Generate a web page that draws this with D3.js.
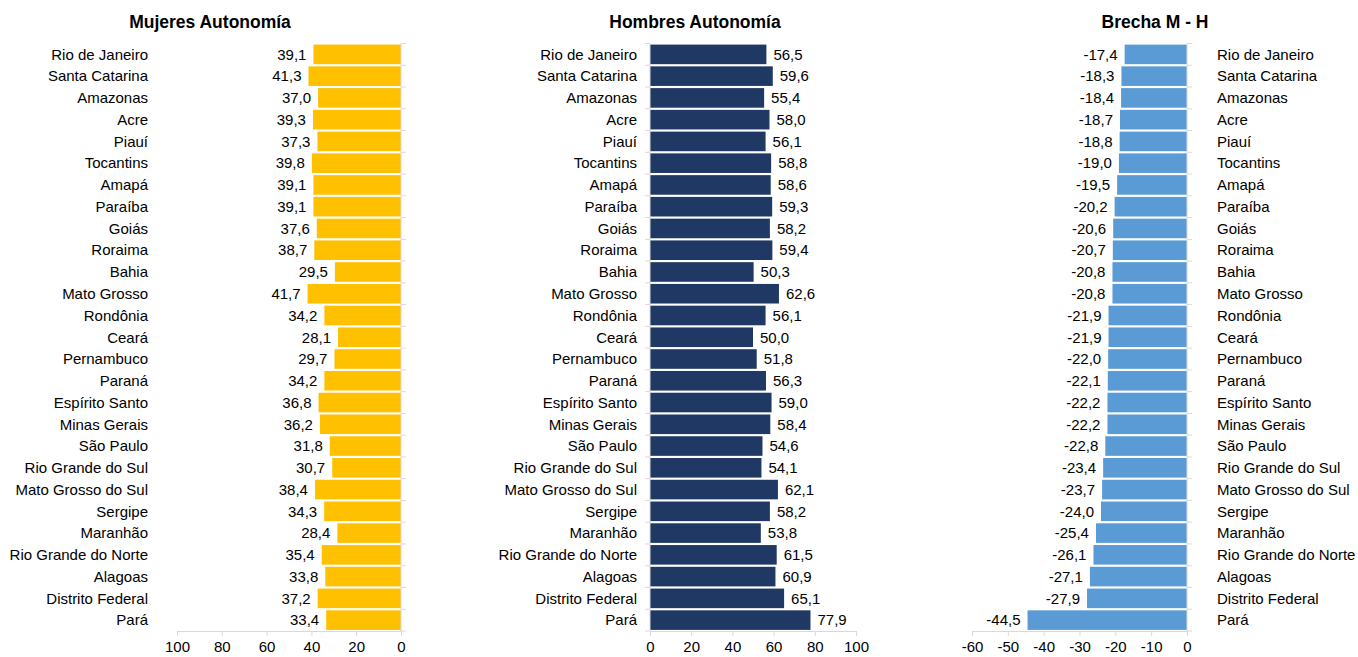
<!DOCTYPE html>
<html><head><meta charset="utf-8">
<script src="https://cdn.jsdelivr.net/npm/d3@7"></script>
<style>body{margin:0;background:#fff}svg{display:block}text{font-family:"Liberation Sans",Arial,sans-serif;fill:#000}</style>
</head><body><svg id="c" width="1358" height="657"></svg>
<script>
const categories=["Rio de Janeiro","Santa Catarina","Amazonas","Acre","Piauí","Tocantins","Amapá","Paraíba","Goiás","Roraima","Bahia","Mato Grosso","Rondônia","Ceará","Pernambuco","Paraná","Espírito Santo","Minas Gerais","São Paulo","Rio Grande do Sul","Mato Grosso do Sul","Sergipe","Maranhão","Rio Grande do Norte","Alagoas","Distrito Federal","Pará"];
const mujeres=[39.1,41.3,37.0,39.3,37.3,39.8,39.1,39.1,37.6,38.7,29.5,41.7,34.2,28.1,29.7,34.2,36.8,36.2,31.8,30.7,38.4,34.3,28.4,35.4,33.8,37.2,33.4];
const hombres=[56.5,59.6,55.4,58.0,56.1,58.8,58.6,59.3,58.2,59.4,50.3,62.6,56.1,50.0,51.8,56.3,59.0,58.4,54.6,54.1,62.1,58.2,53.8,61.5,60.9,65.1,77.9];
const brecha=[-17.4,-18.3,-18.4,-18.7,-18.8,-19.0,-19.5,-20.2,-20.6,-20.7,-20.8,-20.8,-21.9,-21.9,-22.0,-22.1,-22.2,-22.2,-22.8,-23.4,-23.7,-24.0,-25.4,-26.1,-27.1,-27.9,-44.5];
const titles=["Mujeres Autonomía","Hombres Autonomía","Brecha M - H"];
const ticks1=[100,80,60,40,20,0], ticks2=[0,20,40,60,80,100], ticks3=[-60,-50,-40,-30,-20,-10,0];

const svg=d3.select("#c");
const fmt=v=>d3.format(".1f")(v).replace(".",",").replace("−","-");
const plotTop=43.5, plotBottom=631;
const y=d3.scaleBand().domain(categories).range([plotTop,plotBottom]).paddingInner(0.1).paddingOuter(0.05);
const step=(plotBottom-plotTop)/categories.length;
const gridC="#d9d9d9";
const FS="15px";

function panel(opt){
  const g=svg.append("g");
  const x=d3.scaleLinear().domain(opt.domain).range(opt.range);
  const z=x(0);
  g.selectAll("rect").data(opt.values).join("rect")
    .attr("x",d=>Math.min(x(d),z)).attr("width",d=>Math.abs(x(d)-z))
    .attr("y",(d,i)=>y(categories[i])).attr("height",y.bandwidth())
    .attr("fill",opt.color);
  g.append("line").attr("x1",z).attr("x2",z).attr("y1",plotTop).attr("y2",plotBottom).attr("stroke",gridC);
  for(let i=0;i<=categories.length;i++){
    const yy=plotTop+i*step;
    g.append("line").attr("x1",z).attr("x2",z+opt.tickDir*5).attr("y1",yy).attr("y2",yy).attr("stroke",gridC);
  }
  const ax=g.append("g").attr("transform",`translate(0,${plotBottom})`)
    .call(d3.axisBottom(x).tickValues(opt.ticks).tickSize(5).tickPadding(5).tickFormat(d=>String(d)));
  ax.select(".domain").attr("stroke",gridC);
  ax.selectAll(".tick line").attr("stroke",gridC);
  ax.selectAll(".tick text").style("font-size",FS).attr("fill","#000").style("font-family","Liberation Sans, Arial, sans-serif");
  g.selectAll("text.v").data(opt.values).join("text").attr("class","v")
    .attr("x",d=> d<0 || opt.mirror ? Math.min(x(d),z)-7 : x(d)+7)
    .attr("text-anchor",d=> d<0 || opt.mirror ? "end":"start")
    .attr("y",(d,i)=>y(categories[i])+y.bandwidth()/2).attr("dy","0.35em")
    .style("font-size",FS).text(fmt);
  g.selectAll("text.c").data(categories).join("text").attr("class","c")
    .attr("x",opt.catX).attr("text-anchor",opt.catAnchor)
    .attr("y",d=>y(d)+y.bandwidth()/2).attr("dy","0.35em")
    .style("font-size",FS).text(d=>d);
  g.append("text").attr("x",opt.titleX).attr("y",28).attr("text-anchor","middle")
    .style("font-size","17.5px").style("font-weight","bold").text(opt.title);
}

panel({domain:[100,0],range:[177,401],values:mujeres,color:"#FFC000",ticks:ticks1,mirror:true,tickDir:1,catX:148,catAnchor:"end",titleX:210,title:titles[0]});
panel({domain:[0,100],range:[650,856],values:hombres,color:"#203864",ticks:ticks2,mirror:false,tickDir:-1,catX:637,catAnchor:"end",titleX:695,title:titles[1]});
panel({domain:[-60,0],range:[972,1187],values:brecha,color:"#5B9BD5",ticks:ticks3,mirror:false,tickDir:1,catX:1217,catAnchor:"start",titleX:1155,title:titles[2]});
</script></body></html>
